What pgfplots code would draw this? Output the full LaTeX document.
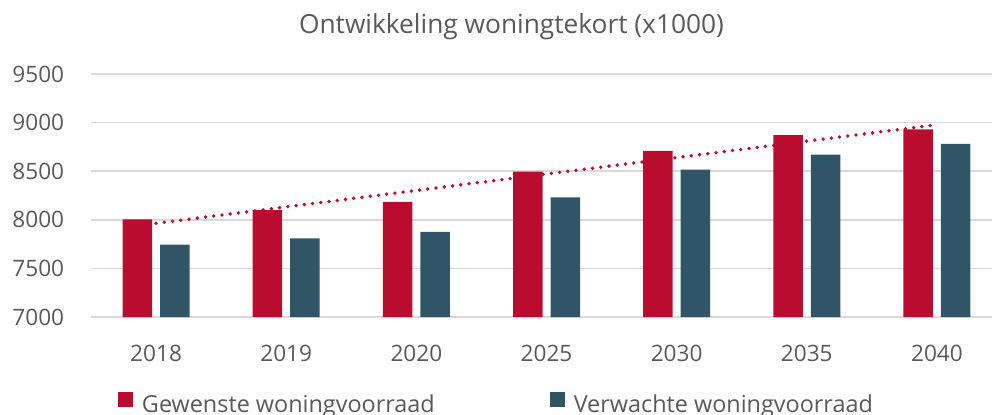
\documentclass[border=0pt]{standalone}
\usepackage{fontspec}
\setmainfont{Open Sans}
\usepackage{pgfplots}
\pgfplotsset{compat=1.18}
\definecolor{cRed}{HTML}{BA0C2F}
\definecolor{cTeal}{HTML}{2F5566}
\definecolor{cGrid}{HTML}{D9D9D9}
\definecolor{cText}{HTML}{595959}
\begin{document}
\begin{tikzpicture}[x=1bp,y=1bp]
\path[use as bounding box] (0,0) rectangle (992,414);
\node[anchor=base, text=cText, font=\fontsize{26.3bp}{30bp}\selectfont, inner sep=0pt] at (511.5,381) {Ontwikkeling woningtekort (x1000)};
\begin{axis}[
  at={(91bp,97bp)}, anchor=south west,
  scale only axis, width=911bp, height=243bp,
  xmin=-0.5, xmax=6.5, ymin=7000, ymax=9500,
  xtick={0,...,6}, xticklabels={2018,2019,2020,2025,2030,2035,2040},
  ytick={7000,7500,8000,8500,9000,9500}, yticklabels={7000,7500,8000,8500,9000,9500},
  ymajorgrids, grid style={cGrid, line width=1.5bp},
  axis line style={draw=none}, major tick length=0pt,
  tick label style={text=cText, font=\fontsize{22.6bp}{26bp}\selectfont, inner sep=0pt},
  xticklabel style={anchor=base, yshift=-44.7bp},
  yticklabel style={anchor=east, xshift=-26.7bp},
  clip=false,
  legend style={at={(rel axis cs:0.0296,-0.3070)}, anchor=north west, draw=none, fill=none,
    inner sep=0pt, outer sep=0pt, text=cText, font=\fontsize{23.4bp}{27bp}\selectfont,
    nodes={inner sep=0pt},
    /tikz/every odd column/.style={column sep=9bp},
    /tikz/every even column/.style={column sep=115bp}},
  legend columns=2,
]
\addplot[ybar, bar width=29.5bp, bar shift=-18.75bp, fill=cRed, draw=none,
  legend image code/.code={\fill[cRed] (0bp,-2bp) rectangle (15bp,13bp);}]
  coordinates {(0,8005) (1,8100) (2,8185) (3,8495) (4,8710) (5,8870) (6,8930)};
\addlegendentry{Gewenste woningvoorraad}
\addplot[ybar, bar width=29.5bp, bar shift=18.75bp, fill=cTeal, draw=none,
  legend image code/.code={\fill[cTeal] (0bp,-2bp) rectangle (15bp,13bp);}]
  coordinates {(0,7745) (1,7810) (2,7875) (3,8230) (4,8515) (5,8670) (6,8780)};
\addlegendentry{Verwachte woningvoorraad}
\addplot[cRed, line width=3.8bp, line cap=round, dash pattern=on 0bp off 8.3bp, forget plot]
  coordinates {(0,7964) (6,8978)};
\end{axis}
\end{tikzpicture}
\end{document}
